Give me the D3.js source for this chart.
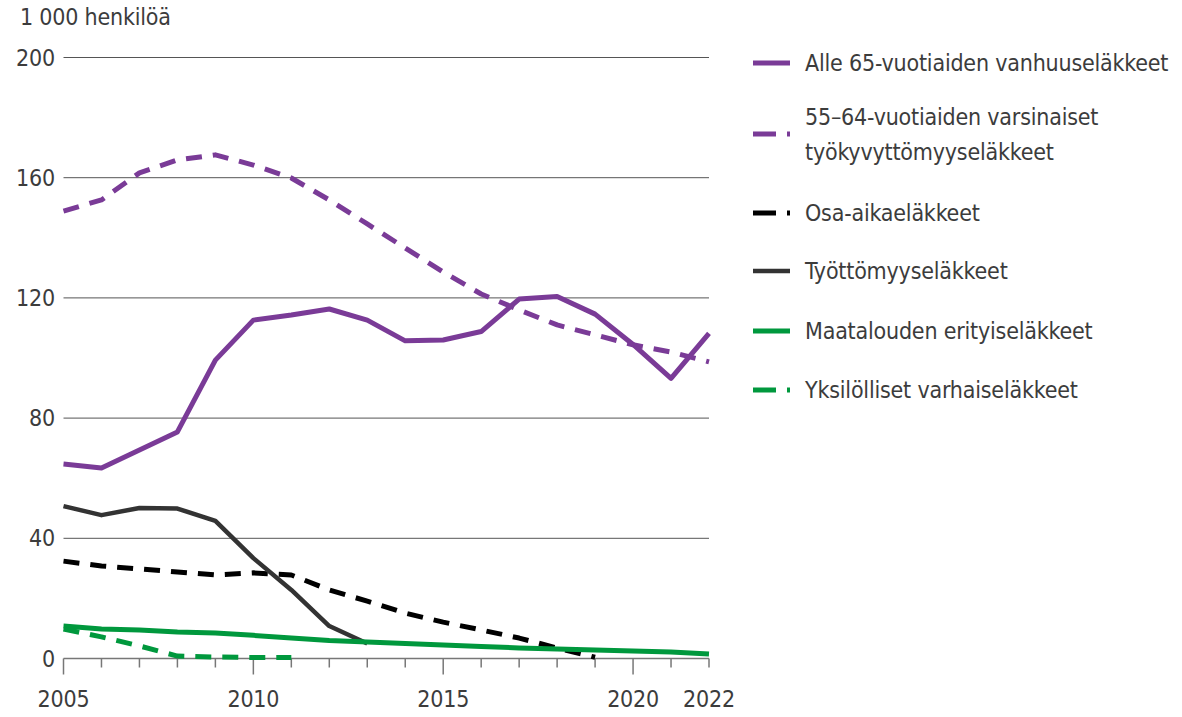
<!DOCTYPE html>
<html>
<head>
<meta charset="utf-8">
<script src="https://cdn.jsdelivr.net/npm/d3@7"></script>
<style>
  body { margin: 0; background: #fff; }
  svg text { font-family: "Liberation Sans Narrow", "DejaVu Sans Condensed", sans-serif; fill: #3c3c3c; letter-spacing: -0.2px; }
</style>
</head>
<body>
<div id="chart"></div>
<script>
// values in 1 000 persons
var years = d3.range(2005, 2023);
var vanhuus = [64.7, 63.4, 69.4, 75.4, 99.3, 112.6, 114.3, 116.3, 112.6, 105.7, 106, 108.8, 119.6, 120.5, 114.6, 104.5, 93.2, 108.2];
var tyokyvytt = [148.9, 152.6, 161.6, 165.9, 167.6, 164.2, 159.9, 152.6, 144.6, 136.6, 128.6, 121.3, 116, 111, 107.7, 104.4, 102, 98.7];
var osaaika = [32.4, 30.8, 29.8, 28.8, 27.8, 28.5, 27.8, 22.8, 19.1, 15.1, 12.1, 9.5, 6.8, 3.5, 0.4];
var tyottomyys = [50.7, 47.7, 50.1, 49.9, 45.8, 33.4, 22.8, 10.8, 5];
var maatalous = [10.8, 9.8, 9.5, 8.8, 8.5, 7.7, 6.8, 6.0, 5.5, 5.0, 4.5, 4.0, 3.5, 3.2, 2.8, 2.5, 2.2, 1.5];
var yksilolliset = [9.8, 7.2, 4.2, 0.8, 0.5, 0.3, 0.3];

var yTicks = [0, 40, 80, 120, 160, 200];
var xLabels = [2005, 2010, 2015, 2020, 2022];
var unitLabel = "1 000 henkilöä";

var series = [
  { name: ["Alle 65-vuotiaiden vanhuuseläkkeet"], values: vanhuus, color: "#7a3b97", width: 5, dash: null },
  { name: ["55–64-vuotiaiden varsinaiset", "työkyvyttömyyseläkkeet"], values: tyokyvytt, color: "#7a3b97", width: 5, dash: "16,11" },
  { name: ["Osa-aikaeläkkeet"], values: osaaika, color: "#000000", width: 5, dash: "16,11" },
  { name: ["Työttömyyseläkkeet"], values: tyottomyys, color: "#333333", width: 4.5, dash: null },
  { name: ["Maatalouden erityiseläkkeet"], values: maatalous, color: "#00983d", width: 5, dash: null },
  { name: ["Yksilölliset varhaiseläkkeet"], values: yksilolliset, color: "#00983d", width: 5, dash: "16,11" }
];

var fontSize = "23px";
var width = 1182, height = 717;
var svg = d3.select("#chart").append("svg")
    .attr("width", width)
    .attr("height", height);

var x = d3.scaleLinear().domain([2005, 2022]).range([63.5, 709]);
var y = d3.scaleLinear().domain([0, 200]).range([658.5, 57.5]);

// grid lines
svg.append("g")
    .attr("class", "grid")
    .selectAll("line")
    .data(yTicks.filter(function(d) { return d > 0; }))
    .enter().append("line")
    .attr("x1", x(2005))
    .attr("x2", x(2022))
    .attr("y1", function(d) { return y(d); })
    .attr("y2", function(d) { return y(d); })
    .attr("stroke", "#555")
    .attr("stroke-width", 1);

// y labels
svg.append("g")
    .selectAll("text")
    .data(yTicks)
    .enter().append("text")
    .attr("x", 55)
    .attr("y", function(d) { return y(d); })
    .attr("dy", "0.35em")
    .attr("text-anchor", "end")
    .style("font-size", fontSize)
    .text(function(d) { return d; });

svg.append("text")
    .attr("x", 20)
    .attr("y", 25)
    .style("font-size", fontSize)
    .text(unitLabel);

// x axis: minor ticks each year, longer at labelled years
var xAxis = svg.append("g")
    .attr("transform", "translate(0," + y(0) + ")");

xAxis.append("line")
    .attr("x1", x(2005)).attr("x2", x(2022))
    .attr("stroke", "#777").attr("stroke-width", 1.5);

xAxis.selectAll(".tick")
    .data(years)
    .enter().append("line")
    .attr("class", "tick")
    .attr("x1", function(d) { return x(d); })
    .attr("x2", function(d) { return x(d); })
    .attr("y1", 0)
    .attr("y2", function(d) { return (d % 5 === 0) ? 16 : 9; })
    .attr("stroke", "#777")
    .attr("stroke-width", 1.5);

xAxis.selectAll(".xlabel")
    .data(xLabels)
    .enter().append("text")
    .attr("class", "xlabel")
    .attr("x", function(d) { return x(d); })
    .attr("y", 48)
    .attr("text-anchor", "middle")
    .style("font-size", fontSize)
    .text(function(d) { return d; });

// lines
var line = d3.line()
    .x(function(d, i) { return x(years[i]); })
    .y(function(d) { return y(d); });

svg.append("g")
    .selectAll("path")
    .data(series)
    .enter().append("path")
    .attr("d", function(d) { return line(d.values); })
    .attr("fill", "none")
    .attr("stroke", function(d) { return d.color; })
    .attr("stroke-width", function(d) { return d.width; })
    .attr("stroke-dasharray", function(d) { return d.dash; })
    .attr("stroke-linejoin", "round");

// legend
var legendY = [63, 134, 213, 271, 331, 390];
var legend = svg.append("g")
    .selectAll("g")
    .data(series)
    .enter().append("g")
    .attr("transform", function(d, i) { return "translate(753," + legendY[i] + ")"; });

legend.append("line")
    .attr("x1", 0).attr("x2", 37)
    .attr("stroke", function(d) { return d.color; })
    .attr("stroke-width", function(d) { return d.width; })
    .attr("stroke-dasharray", function(d) { return d.dash ? "23,11" : null; });

legend.append("text")
    .attr("x", 52)
    .style("font-size", fontSize)
    .each(function(d) {
      var t = d3.select(this);
      var n = d.name.length;
      d.name.forEach(function(s, j) {
        t.append("tspan")
          .attr("x", 52)
          .attr("y", (j - (n - 1) / 2) * 35)
          .attr("dy", "0.35em")
          .text(s);
      });
    });
</script>
</body>
</html>
